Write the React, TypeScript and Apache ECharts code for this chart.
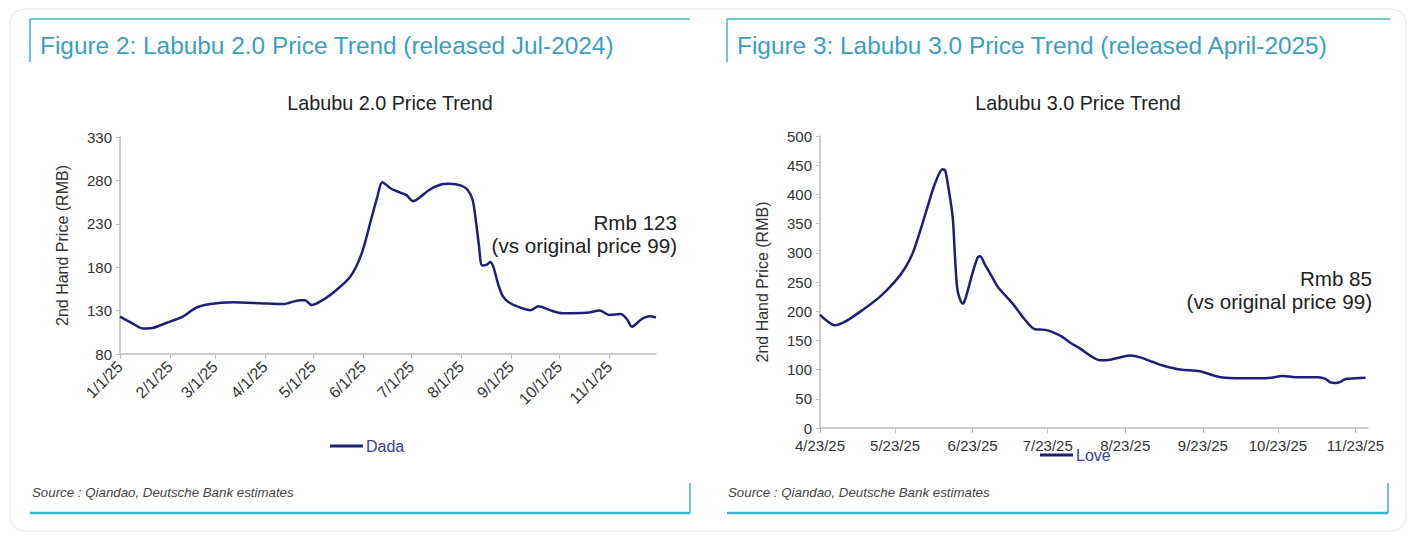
import React, { useEffect, useRef } from 'react';
import * as echarts from 'echarts';

// Labubu 2.0 ("Dada") second-hand price, RMB
const dadaDates = [
  '1/1/25', '1/9/25', '1/15/25', '1/21/25', '1/30/25', '2/9/25', '2/17/25', '2/26/25',
  '3/12/25', '3/29/25', '4/12/25', '4/23/25', '4/26/25', '4/30/25', '5/5/25', '5/13/25',
  '5/24/25', '5/31/25', '6/6/25', '6/10/25', '6/13/25', '6/18/25', '6/24/25', '6/28/25',
  '7/2/25', '7/6/25', '7/12/25', '7/19/25', '7/25/25', '8/1/25', '8/5/25', '8/8/25',
  '8/10/25', '8/12/25', '8/14/25', '8/17/25', '8/19/25', '8/21/25', '8/24/25', '8/27/25',
  '8/31/25', '9/6/25', '9/13/25', '9/18/25', '9/25/25', '10/3/25', '10/18/25', '10/26/25',
  '11/1/25', '11/8/25', '11/12/25', '11/15/25', '11/21/25', '11/26/25', '11/30/25',
];
const dadaPrices = [
  123, 115, 109.5, 110, 116, 123, 133, 137.5,
  139.5, 138.5, 137.5, 142, 142, 136.5, 140, 150,
  169, 195, 235, 262, 278, 271, 266, 263,
  256, 260, 269, 275, 276, 274, 269, 258,
  235, 205, 182, 183, 186, 180, 160, 146,
  139, 134, 130.5, 135, 130.5, 127, 127.5, 130,
  125, 126, 120, 111.5, 120, 123.5, 122,
];

// Labubu 3.0 ("Love") second-hand price, RMB
const loveDates = [
  '4/23/25', '4/25/25', '4/29/25', '5/3/25', '5/10/25', '5/17/25', '5/23/25', '5/27/25',
  '5/30/25', '6/2/25', '6/5/25', '6/8/25', '6/11/25', '6/12/25', '6/13/25', '6/15/25',
  '6/16/25', '6/17/25', '6/19/25', '6/20/25', '6/23/25', '6/25/25', '6/26/25', '6/28/25',
  '7/1/25', '7/3/25', '7/9/25', '7/14/25', '7/18/25', '7/22/25', '7/28/25', '8/1/25',
  '8/5/25', '8/9/25', '8/13/25', '8/17/25', '8/22/25', '8/25/25', '8/29/25', '9/3/25',
  '9/7/25', '9/14/25', '9/20/25', '9/23/25', '9/28/25', '10/2/25', '10/11/25', '10/18/25',
  '10/25/25', '10/30/25', '11/8/25', '11/11/25', '11/13/25', '11/15/25', '11/17/25', '11/19/25',
  '11/23/25', '11/27/25',
];
const lovePrices = [
  194, 186, 176, 182, 202, 225, 251, 274,
  299, 337, 379, 419, 443, 441, 420, 362,
  290, 235, 213, 220, 266, 292, 294, 279,
  257, 242, 213, 185, 169, 168, 158, 146,
  136, 124, 116, 117, 122, 124, 121, 113,
  107, 100, 98, 96, 89, 86, 85, 85,
  89, 87, 87, 84, 78, 77, 79, 84,
  85, 86,
];

const dadaTicks = [80, 130, 180, 230, 280, 330];
const loveTicks = [0, 50, 100, 150, 200, 250, 300, 350, 400, 450, 500];

const FONT = "'Liberation Sans', Arial, sans-serif";
const LINE = '#1f1f7a';
const FRAME = '#3db4cf';
const AXIS = '#bcbcbc';

// daily category labels, M/D/25
function days(from: [number, number], to: [number, number]) {
  const out: string[] = [];
  let t = Date.UTC(2025, from[0] - 1, from[1]);
  const end = Date.UTC(2025, to[0] - 1, to[1]);
  while (t <= end) {
    const d = new Date(t);
    out.push(`${d.getUTCMonth() + 1}/${d.getUTCDate()}/25`);
    t += 86400000;
  }
  return out;
}

const dadaAxis = days([1, 1], [11, 30]);
const loveAxis = days([4, 23], [11, 28]);

const App: React.FC = () => {
  const ref = useRef<HTMLDivElement>(null);

  useEffect(() => {
    document.body.style.margin = '0';
    if (!ref.current) return;
    const chart = echarts.init(ref.current, null, { renderer: 'svg' });

    const text = (x: number, y: number, s: string, size: number, fill: string, extra: any = {}) => ({
      type: 'text',
      x,
      y,
      silent: true,
      style: { text: s, fontSize: size, fontFamily: FONT, fill, verticalAlign: 'middle', ...extra },
    });
    const line = (x1: number, y1: number, x2: number, y2: number, w = 1.5) => ({
      type: 'line',
      silent: true,
      shape: { x1, y1, x2, y2 },
      style: { stroke: FRAME, lineWidth: w },
    });

    const firstOf = (_: number, v: string) => v.split('/')[1] === '1';
    const twentyThird = (_: number, v: string) => v.split('/')[1] === '23';

    const yAxisBase = {
      type: 'value' as const,
      name: '2nd Hand Price (RMB)',
      nameLocation: 'middle' as const,
      nameRotate: 90,
      nameTextStyle: { fontSize: 16, fontFamily: FONT, color: '#333' },
      splitLine: { show: false },
      axisLine: { show: true, lineStyle: { color: AXIS, width: 1.5 } },
      axisTick: { show: true, length: 4, lineStyle: { color: AXIS } },
      axisLabel: { fontSize: 15, fontFamily: FONT, color: '#333', margin: 8 },
    };

    const legendText = { fontSize: 16, fontFamily: FONT, color: '#3b3b9c', padding: [0, 0, 0, -2] };

    chart.setOption({
      animation: false,
      backgroundColor: '#ffffff',
      grid: [
        { left: 120, top: 137, width: 536, height: 217 },
        { left: 820, top: 136, width: 548, height: 292 },
      ],
      xAxis: [
        {
          gridIndex: 0,
          type: 'category',
          data: dadaAxis,
          boundaryGap: false,
          axisLine: { lineStyle: { color: AXIS, width: 1.5 } },
          axisTick: { interval: firstOf, length: 5, lineStyle: { color: AXIS } },
          axisLabel: {
            interval: firstOf,
            rotate: 45,
            fontSize: 16,
            fontFamily: FONT,
            color: '#333',
            margin: 10,
          },
        },
        {
          gridIndex: 1,
          type: 'category',
          data: loveAxis,
          boundaryGap: false,
          axisLine: { lineStyle: { color: AXIS, width: 1.5 } },
          axisTick: { interval: twentyThird, length: 5, lineStyle: { color: AXIS } },
          axisLabel: {
            interval: twentyThird,
            fontSize: 15,
            fontFamily: FONT,
            color: '#333',
            margin: 10,
          },
        },
      ],
      yAxis: [
        {
          ...yAxisBase,
          gridIndex: 0,
          min: 80,
          max: 330,
          nameGap: 50,
          axisLabel: { ...yAxisBase.axisLabel, customValues: dadaTicks },
          axisTick: { ...yAxisBase.axisTick, customValues: dadaTicks },
        },
        {
          ...yAxisBase,
          gridIndex: 1,
          min: 0,
          max: 500,
          nameGap: 50,
          axisLabel: { ...yAxisBase.axisLabel, customValues: loveTicks },
          axisTick: { ...yAxisBase.axisTick, customValues: loveTicks },
        },
      ],
      legend: [
        {
          data: ['Dada'],
          left: 325,
          top: 433,
          icon: 'rect',
          itemWidth: 33,
          itemHeight: 3,
          itemGap: 4,
          textStyle: legendText,
        },
        {
          data: ['Love'],
          left: 1035,
          top: 442,
          icon: 'rect',
          itemWidth: 33,
          itemHeight: 3,
          itemGap: 4,
          textStyle: legendText,
        },
      ],
      series: [
        {
          name: 'Dada',
          type: 'line',
          xAxisIndex: 0,
          yAxisIndex: 0,
          data: dadaDates.map((d, i) => [d, dadaPrices[i]]),
          smooth: 0.3,
          showSymbol: false,
          lineStyle: { color: LINE, width: 2.5 },
          itemStyle: { color: LINE },
        },
        {
          name: 'Love',
          type: 'line',
          xAxisIndex: 1,
          yAxisIndex: 1,
          data: loveDates.map((d, i) => [d, lovePrices[i]]),
          smooth: 0.3,
          showSymbol: false,
          lineStyle: { color: LINE, width: 2.5 },
          itemStyle: { color: LINE },
        },
      ],
      graphic: [
        {
          type: 'rect',
          silent: true,
          shape: { x: 10, y: 9, width: 1396, height: 522, r: 14 },
          style: { fill: 'none', stroke: '#e4e4e4', lineWidth: 1 },
        },
        // left panel frame
        line(30, 19, 690, 19),
        line(30, 19, 30, 62),
        line(30, 513, 690, 513, 2.5),
        line(690, 483, 690, 513),
        // right panel frame
        line(727, 19, 1390, 19),
        line(727, 19, 727, 62),
        line(727, 513, 1388, 513, 2.5),
        line(1388, 483, 1388, 513),
        text(40, 45, 'Figure 2: Labubu 2.0 Price Trend (released Jul-2024)', 24.4, '#3a9fc3'),
        text(737, 45, 'Figure 3: Labubu 3.0 Price Trend (released April-2025)', 24.4, '#3a9fc3'),
        text(390, 103, 'Labubu 2.0 Price Trend', 19.8, '#222', { align: 'center' }),
        text(1078, 103, 'Labubu 3.0 Price Trend', 19.8, '#222', { align: 'center' }),
        text(677, 222, 'Rmb 123', 20.6, '#222', { align: 'right' }),
        text(677, 245, '(vs original price 99)', 20.6, '#222', { align: 'right' }),
        text(1372, 278, 'Rmb 85', 20.6, '#222', { align: 'right' }),
        text(1372, 301, '(vs original price 99)', 20.6, '#222', { align: 'right' }),
        text(32, 492, 'Source : Qiandao, Deutsche Bank estimates', 13.3, '#444', { fontStyle: 'italic' }),
        text(728, 492, 'Source : Qiandao, Deutsche Bank estimates', 13.3, '#444', { fontStyle: 'italic' }),
      ],
    });

    return () => chart.dispose();
  }, []);

  return <div ref={ref} style={{ width: 1420, height: 538 }} />;
};

export default App;
